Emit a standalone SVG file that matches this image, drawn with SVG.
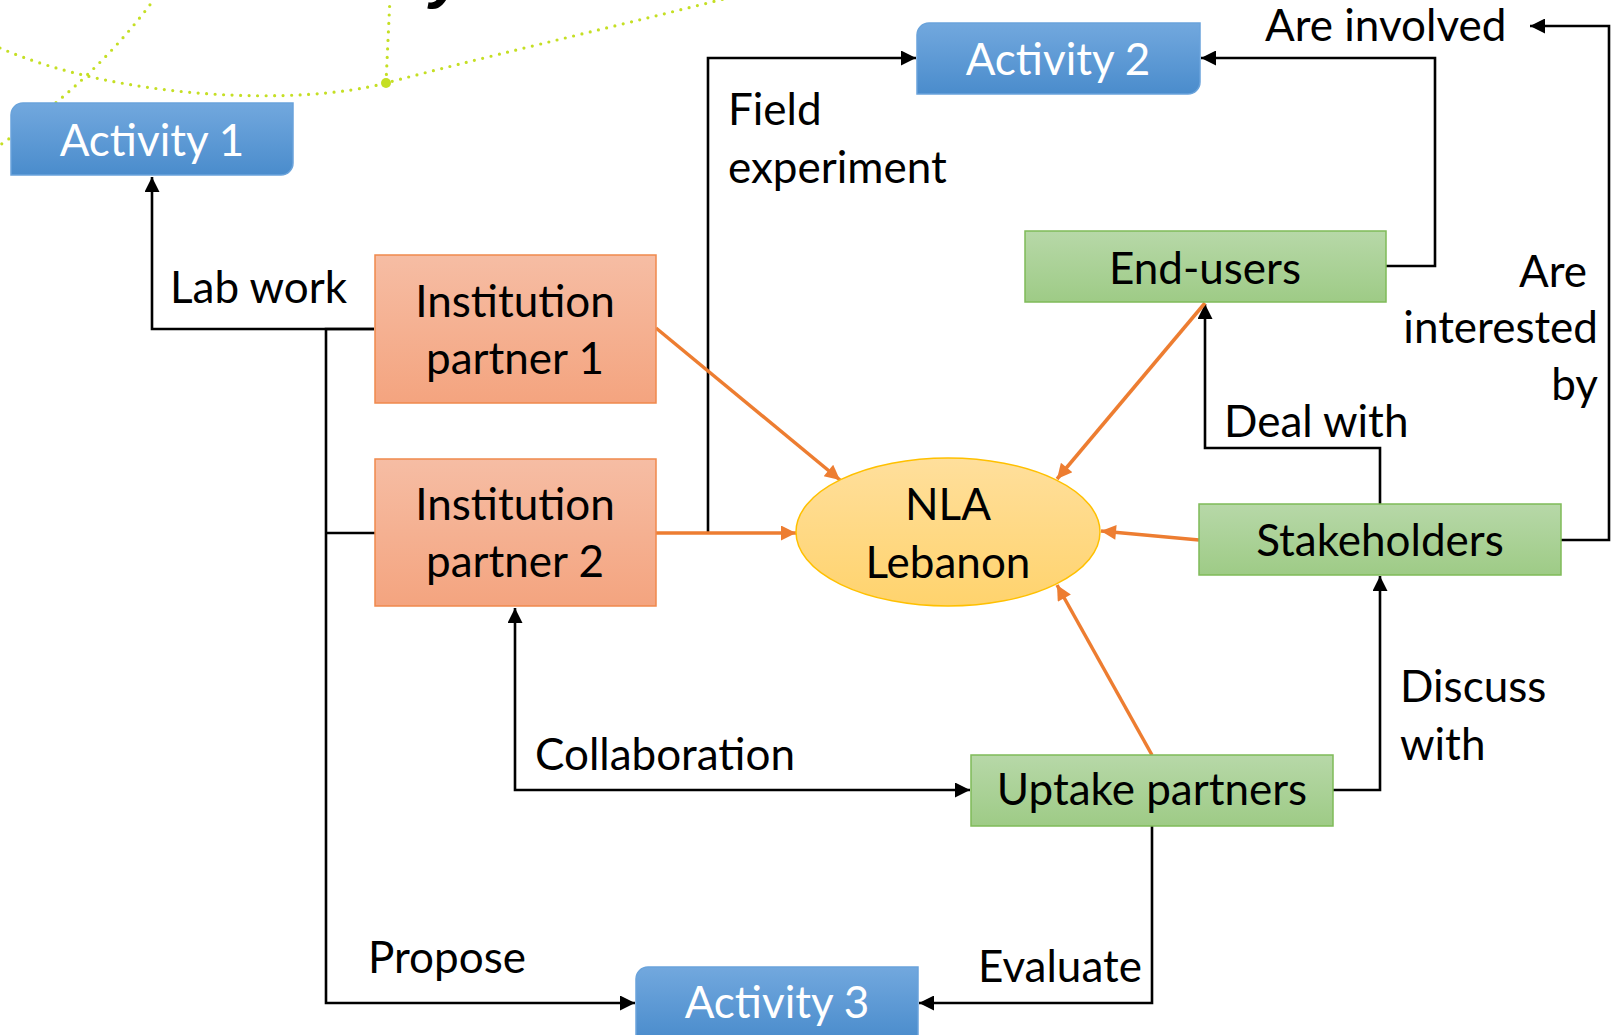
<svg xmlns="http://www.w3.org/2000/svg" width="1614" height="1035" viewBox="0 0 1614 1035">
<style>
.t{font-family:Lato,"Open Sans","Liberation Sans",sans-serif;font-size:44px;fill:#000}
.tw{font-family:Lato,"Open Sans","Liberation Sans",sans-serif;font-size:44px;fill:#fff}
.c{text-anchor:middle}
.r{text-anchor:end}
.blk{fill:none;stroke:#000;stroke-width:2.6}
.org{fill:none;stroke:#ed7d31;stroke-width:3.5}
.dot{fill:none;stroke:#c5df24;stroke-width:3.2;stroke-linecap:round;stroke-dasharray:0 8.5}
.act{stroke:#6aa3db;stroke-width:1.5}
.ins{stroke:#f0894c;stroke-width:1.5}
.grn{stroke:#7fbb58;stroke-width:1.5}
</style>
<defs>
<linearGradient id="gB" x1="0" y1="0" x2="0" y2="1"><stop offset="0" stop-color="#72a8de"/><stop offset="1" stop-color="#4a8ccc"/></linearGradient>
<linearGradient id="gO" x1="0" y1="0" x2="0" y2="1"><stop offset="0" stop-color="#f6bda4"/><stop offset="1" stop-color="#f4a47f"/></linearGradient>
<linearGradient id="gG" x1="0" y1="0" x2="0" y2="1"><stop offset="0" stop-color="#b7d8a8"/><stop offset="1" stop-color="#9ecb86"/></linearGradient>
<linearGradient id="gY" x1="0" y1="0" x2="0" y2="1"><stop offset="0" stop-color="#ffdf9c"/><stop offset="1" stop-color="#ffd36d"/></linearGradient>
<marker id="aK" viewBox="0 0 10 10" refX="10" refY="5" markerUnits="userSpaceOnUse" markerWidth="16" markerHeight="15" orient="auto-start-reverse"><path d="M0,0 L10,5 L0,10 z" fill="#000"/></marker>
<marker id="aO" viewBox="0 0 10 10" refX="10" refY="5" markerUnits="userSpaceOnUse" markerWidth="17" markerHeight="15" orient="auto"><path d="M0,0 L10,5 L0,10 z" fill="#ed7d31"/></marker>
</defs>

<g id="background">
<path class="dot" d="M0,48 C120,100 300,106 386,83 S600,30 728,-2"/>
<path class="dot" d="M155,-2 Q95,80 0,145"/>
<path class="dot" d="M390,-2 L386,83"/>
<circle cx="386" cy="83" r="5" fill="#c5df24"/>
<text x="430" y="-4" style="font-family:'Liberation Sans',sans-serif;font-size:64px;font-weight:bold;font-style:italic;fill:#000">y</text>
</g>

<g id="connectors">
<path class="blk" d="M374,329 H152 V177" marker-end="url(#aK)"/>
<path class="blk" d="M374,329 H326 V1003 H635" marker-end="url(#aK)"/>
<path class="blk" d="M326,533 H375"/>
<path class="blk" d="M708,533 V58 H916" marker-end="url(#aK)"/>
<path class="blk" d="M1386,266 H1435 V58 H1201" marker-end="url(#aK)"/>
<path class="blk" d="M1561,540 H1609 V26 H1530" marker-end="url(#aK)"/>
<path class="blk" d="M1380,504 V448 H1205 V304" marker-end="url(#aK)"/>
<path class="blk" d="M1333,790 H1380 V576" marker-end="url(#aK)"/>
<path class="blk" d="M515,608 V790 H970" marker-start="url(#aK)" marker-end="url(#aK)"/>
<path class="blk" d="M1152,826 V1003 H919" marker-end="url(#aK)"/>
<path class="org" d="M656,328 L840,480" marker-end="url(#aO)"/>
<path class="org" d="M656,533 L796,533" marker-end="url(#aO)"/>
<path class="org" d="M1205,303 L1057,479" marker-end="url(#aO)"/>
<path class="org" d="M1199,540 L1101,531" marker-end="url(#aO)"/>
<path class="org" d="M1152,755 L1057,585" marker-end="url(#aO)"/>
</g>

<g id="labels">
<text class="t" x="170" y="303">Lab work</text>
<text class="t" x="728" y="125">Field</text>
<text class="t" x="728" y="183">experiment</text>
<text class="t" x="1265" y="41">Are involved</text>
<text class="t r" x="1587" y="287">Are</text>
<text class="t r" x="1598" y="343">interested</text>
<text class="t r" x="1598" y="400">by</text>
<text class="t" x="1224" y="437">Deal with</text>
<text class="t" x="1400" y="702">Discuss</text>
<text class="t" x="1400" y="760">with</text>
<text class="t" x="535" y="770">Collaboration</text>
<text class="t" x="368" y="973">Propose</text>
<text class="t" x="978" y="982">Evaluate</text>
</g>

<g id="activity1">
<path class="act" fill="url(#gB)" d="M23,103 H293 V163 A12,12 0 0 1 281,175 H11 V115 A12,12 0 0 1 23,103 Z"/>
<text class="tw c" x="152" y="156">Activity 1</text>
</g>
<g id="activity2">
<path class="act" fill="url(#gB)" d="M929,23 H1200 V82 A12,12 0 0 1 1188,94 H917 V35 A12,12 0 0 1 929,23 Z"/>
<text class="tw c" x="1058" y="75">Activity 2</text>
</g>
<g id="activity3">
<path class="act" fill="url(#gB)" d="M648,967 H918 V1040 H636 V979 A12,12 0 0 1 648,967 Z"/>
<text class="tw c" x="777" y="1018">Activity 3</text>
</g>

<g id="institution1">
<rect class="ins" fill="url(#gO)" x="375" y="255" width="281" height="148"/>
<text class="t c" x="515" y="317">Institution</text>
<text class="t c" x="515" y="374">partner 1</text>
</g>
<g id="institution2">
<rect class="ins" fill="url(#gO)" x="375" y="459" width="281" height="147"/>
<text class="t c" x="515" y="520">Institution</text>
<text class="t c" x="515" y="577">partner 2</text>
</g>

<g id="nla">
<ellipse cx="948" cy="532" rx="152" ry="74" fill="url(#gY)" stroke="#ffc000" stroke-width="1.5"/>
<text class="t c" x="948" y="520">NLA</text>
<text class="t c" x="948" y="578">Lebanon</text>
</g>

<g id="endusers">
<rect class="grn" fill="url(#gG)" x="1025" y="231" width="361" height="71"/>
<text class="t c" x="1205" y="284">End-users</text>
</g>
<g id="stakeholders">
<rect class="grn" fill="url(#gG)" x="1199" y="504" width="362" height="71"/>
<text class="t c" x="1380" y="556">Stakeholders</text>
</g>
<g id="uptake">
<rect class="grn" fill="url(#gG)" x="971" y="755" width="362" height="71"/>
<text class="t c" x="1152" y="805">Uptake partners</text>
</g>
</svg>
